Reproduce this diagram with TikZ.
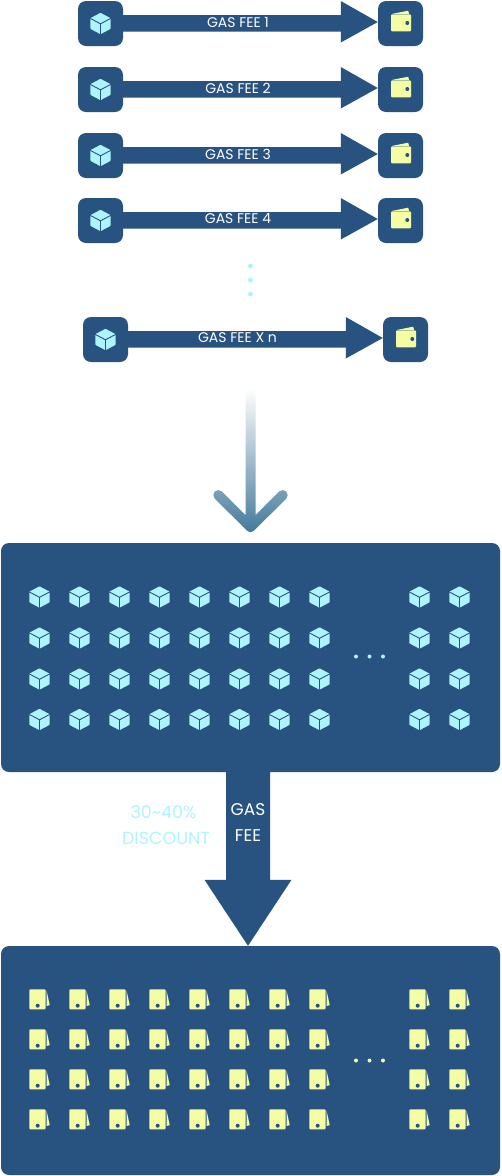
\documentclass[tikz,border=0pt]{standalone}
\usepackage{fontspec}
\setmainfont{Poppins}
\usetikzlibrary{calc}
\definecolor{navy}{HTML}{285280}
\definecolor{cubec}{HTML}{AEF4FF}
\definecolor{walletc}{HTML}{F4FCA4}
\definecolor{gradend}{HTML}{44799B}
\tikzset{
  iconbox/.style={fill=navy,rounded corners=8pt,minimum size=45pt,inner sep=0pt},
  panelbox/.style={fill=navy,rounded corners=8pt,minimum width=499pt,minimum height=229pt,inner sep=0pt},
  feelabel/.style={text=white,font=\fontsize{14}{16}\selectfont,inner sep=0pt},
  biglabel/.style={text=white,font=\fontsize{17}{20}\selectfont,inner sep=0pt},
  disclabel/.style={text=cubec,font=\fontsize{17.5}{20}\selectfont,inner sep=0pt},
  cubeicon/.pic={
    \fill[cubec,rounded corners=0.7pt] (0,-10.7)--(10.2,-5.3)--(10.2,5.3)--(0,10.7)--(-10.2,5.3)--(-10.2,-5.3)--cycle;
    \draw[navy,line width=0.9pt] (-10.2,-5.1)--(0,0.3)--(10.2,-5.1) (0,0.3)--(0,10.7);
  },
  walleticon/.pic={
    \fill[walletc,rounded corners=1pt] (-9.5,-8.2) rectangle (10.5,8.8);
    \fill[walletc] (-8.5,-8.6)--(7.7,-11.8)--(8.6,-8.6)--cycle;
    \fill[navy] (6.8,0.5) circle (2);
  },
  sidewallet/.pic={
    \fill[walletc,rounded corners=1pt] (-10.2,-10.2) rectangle (6.1,9.8);
    \fill[walletc] (7,-9.4)--(10.2,5.5)--(7,6.6)--cycle;
    \fill[navy] (-1.8,6.2) circle (2);
  }
}
\newcommand{\feerow}[5]{%
  \node[iconbox] (src#1) at (#2,#3) {};
  \node[iconbox] (dst#1) at (#2+300,#3) {};
  \pic at (src#1) {cubeicon};
  \pic at ($(dst#1)+(0,-1)$) {walleticon};
  \fill[navy] ($(src#1.east)+(0,-8.5)$) -- ($(dst#1.west)+(-37,-8.5)$) -- ($(dst#1.west)+(-37,-22.5)$)
    -- ($(dst#1.west)+(0,-1.5)$) -- ($(dst#1.west)+(-37,19)$) -- ($(dst#1.west)+(-37,8)$) -- ($(src#1.east)+(0,8)$) -- cycle;
  \node[feelabel] (lab#1) at (#5,#3-1.5) {#4};
}
\begin{document}
\begin{tikzpicture}[x=1pt,y=-1pt]
\useasboundingbox (0,0) rectangle (501,1176);
\feerow{a}{100.5}{23.5}{GAS FEE 1}{238}
\feerow{b}{100.5}{89.5}{GAS FEE 2}{238}
\feerow{c}{100.5}{155.5}{GAS FEE 3}{238}
\feerow{d}{100.5}{220.5}{GAS FEE 4}{238}
\feerow{e}{105.5}{339.5}{GAS FEE X n}{237.5}
\foreach \n/\y in {p/266,q/280,r/294} \fill[cubec] (250.5,\y) circle (2.5);
% gradient arrow
\coordinate (gradtop) at (245.5,388);
\shade[top color=white,bottom color=gradend]
  (gradtop) -- (245.5,515.1) -- (221.84,491.46)
  .. controls (219.89,489.51) and (216.71,489.51) .. (214.76,491.46)
  .. controls (212.81,493.41) and (212.81,496.59) .. (214.76,498.54)
  -- (247,530.7) .. controls (249,532.9) and (252,532.9) .. (254,530.7)
  -- (286.24,498.54)
  .. controls (288.19,496.59) and (288.19,493.41) .. (286.24,491.46)
  .. controls (284.29,489.51) and (281.11,489.51) .. (279.16,491.46)
  -- (255.5,515.1) -- (255.5,388) -- cycle;
% panels
\node[panelbox] (panela) at (250.5,657.5) {};
\node[panelbox] (panelb) at (250.5,1060.5) {};
\foreach \y in {597,638,679,719.5}
  \foreach \x in {39.5,79.5,119.5,159.5,199.5,239.5,279.5,319.5,419.5,459.5}
    \pic at (\x,\y) {cubeicon};
\foreach \y in {999.5,1039.5,1079.5,1119.5}
  \foreach \x in {39.5,79.5,119.5,159.5,199.5,239.5,279.5,319.5,419.5,459.5}
    \pic at (\x,\y) {sidewallet};
\foreach \x in {356,369.5,383} {
  \fill[cubec] (\x,656.5) circle (2);
  \fill[walletc] (\x,1060.5) circle (2);
}
% big arrow
\coordinate (bigtop) at (panela.south -| 248,0);
\coordinate (bigtip) at (panelb.north -| 248,0);
\fill[navy] ($(bigtop)+(-22,-1)$) -- ($(bigtop)+(22,-1)$) -- ($(bigtip)+(22,-66)$) -- ($(bigtip)+(43.5,-66)$)
  -- (bigtip) -- ($(bigtip)+(-43.5,-66)$) -- ($(bigtip)+(-22,-66)$) -- cycle;
\node[biglabel] (gas) at (248,810) {GAS};
\node[biglabel] (fee) at (248,836) {FEE};
\node[disclabel] (disc1) at (163.5,812) {30\textasciitilde40\%};
\node[disclabel] (disc2) at (166,838) {DISCOUNT};
\end{tikzpicture}
\end{document}
